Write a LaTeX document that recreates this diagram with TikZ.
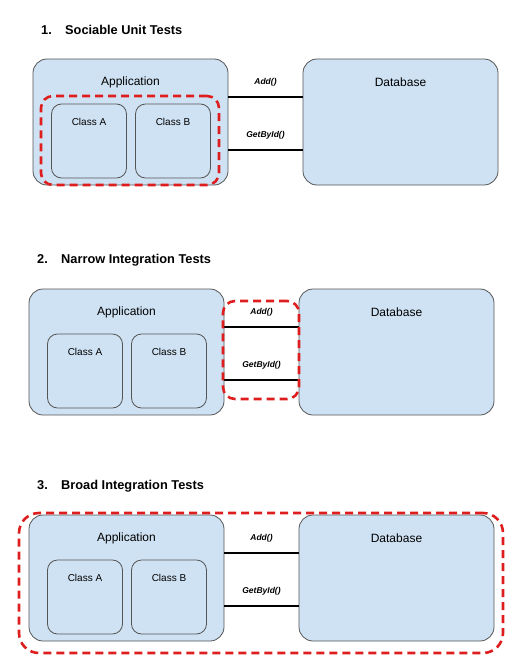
\documentclass[tikz,border=0pt]{standalone}
\usepackage{fontspec}
\setmainfont{Liberation Sans}
\usepackage{tikz}
\usetikzlibrary{positioning}
\definecolor{colorbox}{RGB}{207, 226, 243}
\definecolor{colorborder}{RGB}{85, 85, 85}
\definecolor{colorfocus}{RGB}{222, 30, 30}
\tikzstyle{every node}=[inner sep=0pt]
\tikzstyle{system}=[rectangle, rounded corners=14pt, minimum width=195pt, minimum height=126pt, draw=colorborder, fill=colorbox, line width=0.8pt]
\tikzstyle{cls}=[rectangle, rounded corners=10pt, minimum width=75pt, minimum height=74pt, draw=colorborder, fill=colorbox, line width=0.8pt]
\tikzstyle{boxlabel}=[anchor=center, yshift=-24pt, font=\fontsize{12}{14}\selectfont]
\tikzstyle{clslabel}=[anchor=center, yshift=-18pt, font=\fontsize{10}{12}\selectfont]
\tikzstyle{heading}=[anchor=west, font=\fontsize{12.8}{15}\selectfont\bfseries]
\tikzstyle{link}=[draw=black, line width=1.3pt]
\tikzstyle{method}=[above=10pt, font=\fontsize{8.5}{10}\selectfont\bfseries\itshape]
\tikzstyle{focus}=[rectangle, rounded corners=12pt, draw=colorfocus, line width=2.6pt, dash pattern=on 8pt off 5pt]

\begin{document}
\begin{tikzpicture}[x=1pt, y=-1pt]
		
		\useasboundingbox (0, 0) rectangle (528, 663);
		
		% one application / database pair per kind of test
		\foreach \i/\sx/\sy/\testname in {1/33/59/Sociable Unit Tests, 2/29/289/Narrow Integration Tests, 3/29/515/Broad Integration Tests}{
		\begin{scope}[shift={(\sx, \sy)}]
		\node[heading] at (8, -29) (title\i) {\makebox[24pt][l]{\i.}\testname};
		
		\node[system, label={[boxlabel]north:Application}] at (97.5, 63) (app\i) {};
		
		\node[system, label={[boxlabel]north:Database}] at (367.5, 63) (db\i) {};
		
		\node[cls, label={[clslabel]north:Class A}] at (56, 82) (ca\i) {};
		\node[cls, label={[clslabel]north:Class B}] at (140, 82) (cb\i) {};
		
		\path (app\i.east |- 0, 38) edge[link] node[method]{Add()} (db\i.west |- 0, 38);
		\path (app\i.east |- 0, 91) edge[link] node[method]{GetById()} (db\i.west |- 0, 91);
		\end{scope}
		}
		
		% what each test covers
		\node[focus, minimum width=178pt, minimum height=89pt] at (130, 140.5) (unit) {};
		\node[focus, minimum width=76pt, minimum height=98pt] at (261, 350) (narrow) {};
		\node[focus, rounded corners=20pt, minimum width=484pt, minimum height=140pt] at (261, 583) (broad) {};
		
\end{tikzpicture}
\end{document}
